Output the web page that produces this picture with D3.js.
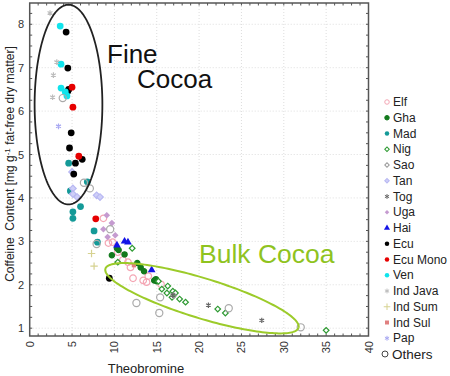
<!DOCTYPE html>
<html>
<head>
<meta charset="utf-8">
<script src="https://cdn.jsdelivr.net/npm/d3@7"></script>
<style>
  body { margin: 0; background: #fff; }
  svg { display: block; font-family: Arial, "Liberation Sans", sans-serif; }
</style>
</head>
<body>
<svg id="chart"></svg>
<script>
const width = 450;
const height = 376;

// data values: [theobromine, caffeine]
const elf = [[8.7,3.53],[9.3,2.96],[9.8,2.98],[10.4,2.75],[11.0,2.57],[11.6,2.52],[11.9,2.4],[12.2,2.15],[13.4,2.1],[13.8,2.06],[15.5,2.01],[14.0,2.2]];
const gha = [[9.7,2.68],[10.3,2.84],[11.2,2.7],[12.7,2.5],[13.1,2.4],[13.5,2.31],[14.7,2.1],[15.0,2.08],[14.9,2.13],[10.5,2.8]];
const mad = [[4.6,4.8],[6.8,4.37],[4.8,4.16],[6.0,3.8],[5.1,3.68],[5.1,3.53],[7.6,3.24],[8.0,2.98]];
const nig = [[12.1,2.84],[10.4,2.52],[16.3,1.97],[15.6,1.9],[16.2,1.81],[16.9,1.85],[17.2,1.81],[16.8,1.71],[17.7,1.67],[18.4,1.6],[22.2,1.44],[23.1,1.35],[35.0,0.95],[15.2,2.08]];
const sao = [[17.0,1.75]];
const tan = [[5.0,4.6],[5.1,4.22],[5.1,4.09],[5.6,4.02],[7.9,4.06],[8.3,4.02]];
const tog = [[21.1,1.53],[27.4,1.18],[16.9,1.76]];
const uga = [[9.1,3.6],[9.7,3.42],[8.7,3.28],[9.2,3.1],[10.1,3.14]];
const hai = [[10.3,2.91],[11.2,3.0],[11.6,2.98],[14.4,2.34]];
const ecu = [[4.3,7.82],[4.5,6.99],[4.6,6.5],[4.5,6.46],[4.9,5.5],[4.7,5.15],[6.2,4.89],[5.4,4.8],[5.2,4.55],[9.4,2.15]];
const ecuMono = [[5.0,6.55],[5.1,6.09],[5.8,4.96],[7.8,3.52]];
const ven = [[3.6,7.96],[3.7,7.08],[3.7,6.53],[4.2,6.44],[4.4,6.35]];
const indJava = [[2.4,8.26],[3.2,7.13],[2.8,6.83],[2.7,6.32]];
const indSum = [[7.3,2.72],[7.6,2.43]];
const indSul = [[12.3,2.45]];
const pap = [[3.4,5.65]];
const others = [[3.9,6.3],[6.4,4.35],[7.1,4.22],[9.5,3.28],[7.9,2.94],[12.6,1.58],[15.3,1.35],[15.4,1.71],[23.5,1.46],[32.0,1.02]];

const groupNames = ['Elf','Gha','Mad','Nig','Sao','Tan','Tog','Uga','Hai','Ecu','Ecu Mono','Ven','Ind Java','Ind Sum','Ind Sul','Pap','Others'];
const groupData = [elf, gha, mad, nig, sao, tan, tog, uga, hai, ecu, ecuMono, ven, indJava, indSum, indSul, pap, others];

const xTicks = [0,5,10,15,20,25,30,35,40];
const yTicks = [1,2,3,4,5,6,7,8];

// ellipses: centre and two half-axis vectors, in data units
const fineEllipse = {c: [4.58, 6.15], a: [4.0, 0], b: [0, 2.3]};
const bulkEllipse = {c: [20.34, 1.69], a: [11.4, -0.68], b: [-0.69, -0.44]};

const asterisk = d3.symbolAsterisk || d3.symbolStar;
const plus = d3.symbolPlus || d3.symbolCross;
// rot: square turned 45 degrees gives the squat diamond of the original
const styles = {
  'Elf':      {type: d3.symbolCircle,   size: 34, fill: 'none',    stroke: '#f4a6b4'},
  'Gha':      {type: d3.symbolCircle,   size: 22, fill: '#137a1d', stroke: '#137a1d'},
  'Mad':      {type: d3.symbolCircle,   size: 36, fill: '#149a98', stroke: 'none'},
  'Nig':      {type: d3.symbolSquare,   size: 16, fill: '#fff',    stroke: '#2e9a32', rot: 45},
  'Sao':      {type: d3.symbolSquare,   size: 16, fill: 'none',    stroke: '#999', rot: 45},
  'Tan':      {type: d3.symbolSquare,   size: 22, fill: '#cfcff8', stroke: '#b8b8f2', rot: 45},
  'Tog':      {type: asterisk,          size: 20, fill: '#666',    stroke: '#666'},
  'Uga':      {type: d3.symbolSquare,   size: 22, fill: '#c59bd0', stroke: 'none', rot: 45},
  'Hai':      {type: d3.symbolTriangle, size: 26, fill: '#1414e6', stroke: 'none'},
  'Ecu':      {type: d3.symbolCircle,   size: 36, fill: '#000',    stroke: 'none'},
  'Ecu Mono': {type: d3.symbolCircle,   size: 36, fill: '#e60000', stroke: 'none'},
  'Ven':      {type: d3.symbolCircle,   size: 36, fill: '#10e4ec', stroke: 'none'},
  'Ind Java': {type: asterisk,          size: 22, fill: '#bbb',    stroke: '#bcbcbc'},
  'Ind Sum':  {type: plus,              size: 20, fill: '#d8d49a', stroke: '#d6d290'},
  'Ind Sul':  {type: d3.symbolSquare,   size: 18, fill: '#e08080', stroke: 'none'},
  'Pap':      {type: asterisk,          size: 22, fill: '#a8a8f4', stroke: '#a8a8f2'},
  'Others':   {type: d3.symbolCircle,   size: 40, fill: 'none',    stroke: '#aaa'}
};

const svg = d3.select('#chart').attr('width', width).attr('height', height);

const x = d3.scaleLinear().domain([0, 40]).range([29.7, 368.5]);
const y = d3.scaleLinear().domain([0.82, 8.49]).range([336, 3]);

// grid
svg.append('g').selectAll('line').data(xTicks.slice(1, -1)).enter().append('line')
  .attr('x1', d => x(d)).attr('x2', d => x(d)).attr('y1', y(8.49)).attr('y2', y(0.82))
  .attr('stroke', '#ddd').attr('stroke-dasharray', '1,2');
svg.append('g').selectAll('line').data(yTicks).enter().append('line')
  .attr('y1', d => y(d)).attr('y2', d => y(d)).attr('x1', x(0)).attr('x2', x(40))
  .attr('stroke', '#ddd').attr('stroke-dasharray', '1,2');

// minor ticks along the frame
const xMinor = d3.range(1, 40);
const yMinor = d3.range(1, 8.5, 0.25);
const ticksG = svg.append('g').attr('stroke', '#555').attr('stroke-width', 1);
ticksG.selectAll('.bx').data(xMinor).enter().append('line')
  .attr('x1', d => x(d)).attr('x2', d => x(d)).attr('y1', y(0.82)).attr('y2', y(0.82) - 2.5);
ticksG.selectAll('.tx').data(xMinor).enter().append('line')
  .attr('x1', d => x(d)).attr('x2', d => x(d)).attr('y1', y(8.49)).attr('y2', y(8.49) + 2.5);
ticksG.selectAll('.ly').data(yMinor).enter().append('line')
  .attr('y1', d => y(d)).attr('y2', d => y(d)).attr('x1', x(0)).attr('x2', x(0) + 2.5);
ticksG.selectAll('.ry').data(yMinor).enter().append('line')
  .attr('y1', d => y(d)).attr('y2', d => y(d)).attr('x1', x(40)).attr('x2', x(40) - 2.5);

// frame
svg.append('rect')
  .attr('x', x(0)).attr('y', y(8.49))
  .attr('width', x(40) - x(0)).attr('height', y(0.82) - y(8.49))
  .attr('fill', 'none').attr('stroke', '#555').attr('stroke-width', 1.5);

// tick labels
svg.append('g').selectAll('text').data(yTicks).enter().append('text')
  .attr('x', 24).attr('y', d => y(d) + 4)
  .attr('text-anchor', 'end').attr('font-size', 11).attr('fill', '#333')
  .text(d => d);
svg.append('g').selectAll('text').data(xTicks).enter().append('text')
  .attr('transform', d => `translate(${x(d) + 4},341) rotate(-90)`)
  .attr('text-anchor', 'end').attr('font-size', 11).attr('fill', '#333')
  .text(d => d);

// axis titles
svg.append('text').attr('x', 146).attr('y', 373).attr('text-anchor', 'middle')
  .attr('font-size', 13).attr('fill', '#222').text('Theobromine');
const yTitle = svg.append('text').attr('transform', 'translate(14,164) rotate(-90)')
  .attr('text-anchor', 'middle').attr('font-size', 12).attr('fill', '#222');
yTitle.append('tspan').text('Coffeine\u00a0\u00a0Content [mg g');
yTitle.append('tspan').attr('dy', -4).attr('font-size', 8).text('-1');
yTitle.append('tspan').attr('dy', 4).text(' fat-free dry matter]');

// ellipses
function ellipsePath(e) {
  const pts = d3.range(0, 2 * Math.PI + 0.01, Math.PI / 90).map(t => [
    x(e.c[0] + Math.cos(t) * e.a[0] + Math.sin(t) * e.b[0]),
    y(e.c[1] + Math.cos(t) * e.a[1] + Math.sin(t) * e.b[1])
  ]);
  return d3.line()(pts);
}

// points
groupNames.forEach((name, i) => {
  const s = styles[name];
  svg.append('g').selectAll('path').data(groupData[i]).enter().append('path')
    .attr('d', d3.symbol().type(s.type).size(s.size))
    .attr('transform', d => `translate(${x(d[0])},${y(d[1])})` + (s.rot ? ` rotate(${s.rot})` : ''))
    .attr('fill', s.fill).attr('stroke', s.stroke).attr('stroke-width', 1.2);
});

svg.append('path').attr('d', ellipsePath(fineEllipse))
  .attr('fill', 'none').attr('stroke', '#222').attr('stroke-width', 1.8);
svg.append('path').attr('d', ellipsePath(bulkEllipse))
  .attr('fill', 'none').attr('stroke', '#9ccb2a').attr('stroke-width', 2);

// annotations
svg.append('text').attr('x', 107).attr('y', 63).attr('font-size', 26).attr('fill', '#111').text('Fine');
svg.append('text').attr('x', 137).attr('y', 88).attr('font-size', 26).attr('fill', '#111').text('Cocoa');
svg.append('text').attr('x', 199).attr('y', 263).attr('font-size', 26.5).attr('fill', '#8fc31f').text('Bulk Cocoa');

// legend
const legend = svg.append('g').selectAll('g').data(groupNames).enter().append('g')
  .attr('transform', (d, i) => `translate(387,${102 + i * 15.75})`);
legend.append('path')
  .attr('d', d => d3.symbol().type(styles[d].type).size(d === 'Others' ? 28 : (styles[d].rot ? 10 : 16))())
  .attr('fill', d => styles[d].fill).attr('stroke', d => d === 'Others' ? '#444' : styles[d].stroke)
  .attr('stroke-width', 1)
  .attr('transform', d => d === 'Others' ? 'translate(-2,0)' : (styles[d].rot ? `rotate(${styles[d].rot})` : null));
legend.append('text')
  .attr('x', d => d === 'Others' ? 5 : 6).attr('y', d => d === 'Others' ? 5 : 4)
  .attr('font-size', d => d === 'Others' ? 13.5 : 12).attr('fill', '#222')
  .text(d => d);
</script>
</body>
</html>
